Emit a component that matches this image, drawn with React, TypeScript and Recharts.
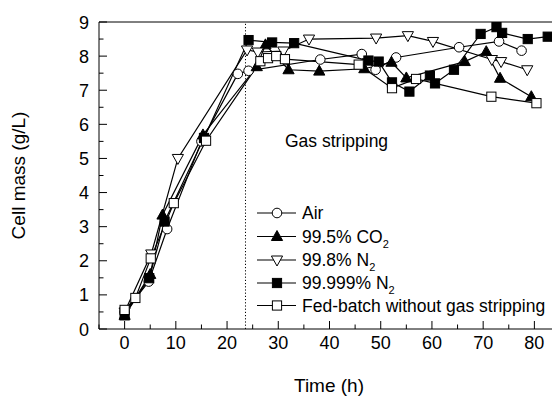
import React from 'react';
import { LineChart, Line, XAxis, YAxis, ReferenceLine } from 'recharts';

const FONT = '"Liberation Sans", Arial, Helvetica, sans-serif';

// ---- data (time in h, cell mass in g/L) ----
const airTime = [0, 4.7, 8.3, 15, 22.1, 24.2, 38.2, 46.3, 49, 53, 65.3, 73.1, 77.5];
const airMass = [0.5, 1.39, 2.93, 5.5, 7.48, 7.57, 7.9, 8.06, 7.6, 7.96, 8.26, 8.43, 8.16];

const co2Time = [0, 5, 7.4, 15.3, 25.8, 27.5, 32, 38, 46.8, 52.1, 55, 66.4, 70.6, 73.3, 79.4];
const co2Mass = [0.4, 1.6, 3.34, 5.69, 7.69, 8.33, 7.6, 7.56, 7.63, 7.82, 7.36, 7.84, 8.13, 7.35, 6.81];

const n2aTime = [0, 5.2, 10.4, 23.9, 26, 31, 36, 49.1, 55.3, 60.2, 71.7, 73.5, 78.6];
const n2aMass = [0.5, 2.2, 5.0, 8.18, 8.12, 8.15, 8.5, 8.53, 8.6, 8.43, 7.9, 7.84, 7.6];

const n2bTime = [0, 4.8, 7.8, 15.5, 24.2, 28.8, 33.1, 47.6, 49.6, 52.2, 55.6, 59.6, 60.6, 64.3, 69.5, 72.6, 73.7, 78.7, 82.6];
const n2bMass = [0.4, 1.49, 3.15, 5.6, 8.47, 8.4, 8.38, 7.87, 7.84, 7.23, 6.96, 7.43, 7.2, 7.6, 8.65, 8.85, 8.68, 8.5, 8.57];

const fedTime = [0, 2.1, 5.1, 9.6, 15.9, 26.5, 28, 29.6, 31.3, 45.7, 52.2, 56.9, 71.6, 80.4];
const fedMass = [0.56, 0.91, 2.07, 3.69, 5.52, 7.85, 7.94, 8.0, 7.91, 7.75, 7.06, 7.33, 6.81, 6.62];

const xTicks = [-5, 0, 5, 10, 15, 20, 25, 30, 35, 40, 45, 50, 55, 60, 65, 70, 75, 80, 85];
const xLabels = [0, 10, 20, 30, 40, 50, 60, 70, 80];
const yTicks = [0, 0.5, 1, 1.5, 2, 2.5, 3, 3.5, 4, 4.5, 5, 5.5, 6, 6.5, 7, 7.5, 8, 8.5, 9];
const yLabels = [0, 1, 2, 3, 4, 5, 6, 7, 8, 9];

const gasStart = 23.6;

type Shape = 'circle' | 'triUp' | 'triDown' | 'square';

const zip = (t: number[], v: number[]) => t.map((x, i) => ({ t: x, v: v[i] }));

const series: { name: string; sub?: string; data: { t: number; v: number }[]; shape: Shape; filled: boolean }[] = [
  { name: 'Air', data: zip(airTime, airMass), shape: 'circle', filled: false },
  { name: '99.5% CO', sub: '2', data: zip(co2Time, co2Mass), shape: 'triUp', filled: true },
  { name: '99.8% N', sub: '2', data: zip(n2aTime, n2aMass), shape: 'triDown', filled: false },
  { name: '99.999% N', sub: '2', data: zip(n2bTime, n2bMass), shape: 'square', filled: true },
  { name: 'Fed-batch without gas stripping', data: zip(fedTime, fedMass), shape: 'square', filled: false },
];

function Marker({ shape, filled, cx, cy }: { shape: Shape; filled: boolean; cx: number; cy: number }) {
  const fill = filled ? '#000' : '#fff';
  const common = { fill, stroke: '#000', strokeWidth: 1 };
  if (shape === 'circle') return <circle cx={cx} cy={cy} r={4.8} {...common} />;
  if (shape === 'square') return <rect x={cx - 4.6} y={cy - 4.6} width={9.2} height={9.2} {...common} />;
  if (shape === 'triUp')
    return <polygon points={`${cx},${cy - 6} ${cx - 5.6},${cy + 4} ${cx + 5.6},${cy + 4}`} {...common} />;
  return <polygon points={`${cx},${cy + 6} ${cx - 5.6},${cy - 4} ${cx + 5.6},${cy - 4}`} {...common} />;
}

const makeDot = (shape: Shape, filled: boolean) => (props: any) => {
  const { cx, cy, index } = props;
  if (cx == null || cy == null) return <g key={`e${index}`} />;
  return (
    <g key={`d${index}`}>
      <Marker shape={shape} filled={filled} cx={cx} cy={cy} />
    </g>
  );
};

const XTick = (props: any) => {
  const { x, y, payload } = props;
  const v = payload.value;
  const major = xLabels.includes(v);
  return (
    <g>
      <line x1={x} x2={x} y1={y} y2={y - (major ? 8 : 4.5)} stroke="#000" strokeWidth={1} />
      {major ? (
        <text x={x} y={y + 20} textAnchor="middle" fontSize={18} fontFamily={FONT} fill="#000">
          {v}
        </text>
      ) : null}
    </g>
  );
};

const YTick = (props: any) => {
  const { x, y, payload } = props;
  const v = payload.value;
  const major = yLabels.includes(v);
  return (
    <g>
      <line x1={x} x2={x + (major ? 8 : 4.5)} y1={y} y2={y} stroke="#000" strokeWidth={1} />
      {major ? (
        <text x={x - 10} y={y + 6.5} textAnchor="end" fontSize={18} fontFamily={FONT} fill="#000">
          {v}
        </text>
      ) : null}
    </g>
  );
};

const legendRows = [213, 236.5, 260, 283, 305.5];

export default function App() {
  return (
    <div style={{ position: 'absolute', left: 0, top: 0, width: 552, height: 399, overflow: 'hidden', background: '#fff' }}>
      <div style={{ position: 'relative', width: 570, height: 399 }}>
        <LineChart width={570} height={399} margin={{ top: 22, right: 10, bottom: 0, left: 0 }}>
          <XAxis
            type="number"
            dataKey="t"
            domain={[-5, 85]}
            ticks={xTicks}
            interval={0}
            allowDataOverflow
            height={70}
            tickSize={0}
            tickMargin={0}
            tickLine={false}
            tick={<XTick />}
            axisLine={{ stroke: '#000', strokeWidth: 1 }}
          />
          <YAxis
            type="number"
            dataKey="v"
            domain={[0, 9]}
            ticks={yTicks}
            interval={0}
            allowDataOverflow
            width={99}
            tickSize={0}
            tickMargin={0}
            tickLine={false}
            tick={<YTick />}
            axisLine={{ stroke: '#000', strokeWidth: 1 }}
          />
          <ReferenceLine y={9} stroke="#000" strokeWidth={1} />
          <ReferenceLine x={gasStart} stroke="#000" strokeWidth={1} strokeDasharray="1.2 2" />
          {series.map((s) => (
            <Line
              key={s.name}
              data={s.data}
              dataKey="v"
              type="linear"
              stroke="#000"
              strokeWidth={1.2}
              dot={makeDot(s.shape, s.filled)}
              activeDot={false}
              isAnimationActive={false}
            />
          ))}
        </LineChart>
        <svg
          width={570}
          height={399}
          style={{ position: 'absolute', left: 0, top: 0, pointerEvents: 'none' }}
          fontFamily={FONT}
        >
          <text x={285} y={146.5} fontSize={17.5} fill="#000">
            Gas stripping
          </text>
          <text x={329} y={392} fontSize={19} textAnchor="middle" fill="#000">
            Time (h)
          </text>
          <text x={25} y={175.5} fontSize={19} textAnchor="middle" fill="#000" transform="rotate(-90 25 175.5)">
            Cell mass (g/L)
          </text>
          {series.map((s, i) => {
            const cy = legendRows[i];
            return (
              <g key={s.name}>
                <line x1={257} x2={296} y1={cy} y2={cy} stroke="#000" strokeWidth={1.2} />
                <Marker shape={s.shape} filled={s.filled} cx={277} cy={cy} />
                <text x={302} y={cy + 6} fontSize={17.5} fill="#000">
                  {s.name}
                  {s.sub ? (
                    <tspan fontSize={11} dy={5}>
                      {s.sub}
                    </tspan>
                  ) : null}
                </text>
              </g>
            );
          })}
        </svg>
      </div>
    </div>
  );
}
